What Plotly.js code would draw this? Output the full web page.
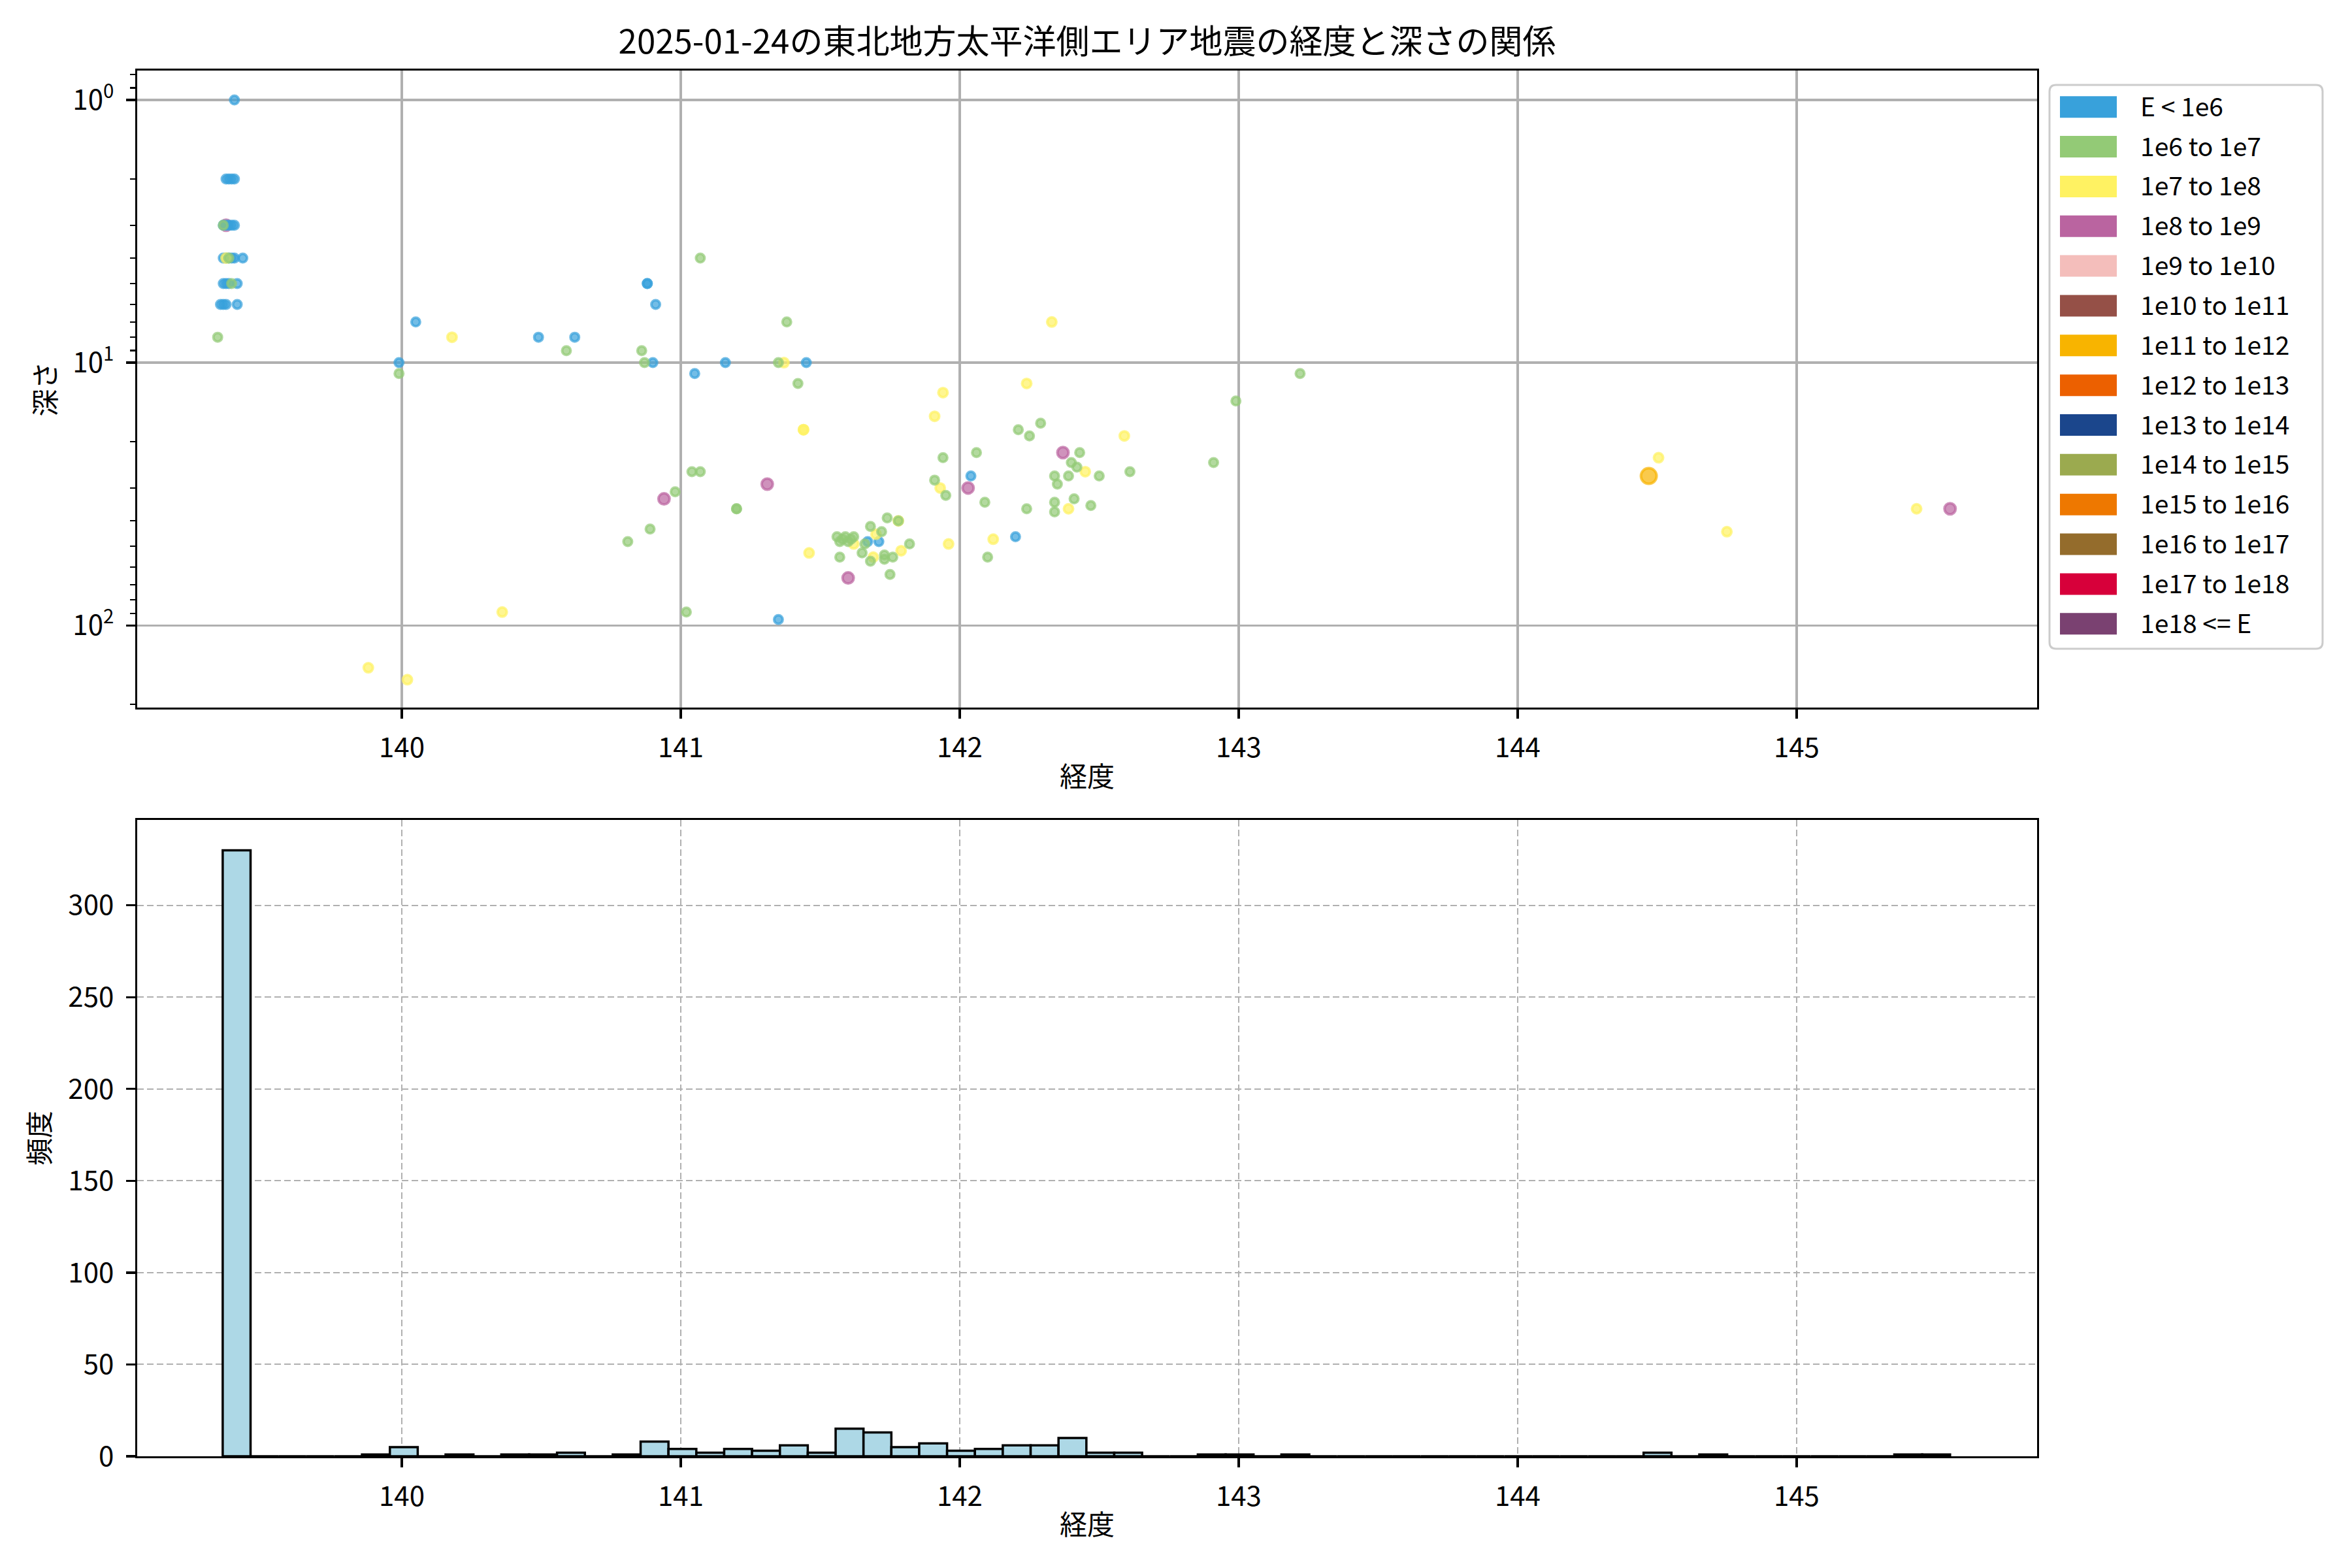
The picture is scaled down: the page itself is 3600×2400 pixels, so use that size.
<!DOCTYPE html>
<html><head><meta charset="utf-8">
<script src="https://cdn.plot.ly/plotly-3.0.1.min.js"></script>
<style>html,body{margin:0;padding:0;background:#fff}</style>
</head><body><div id="chart" style="width:3600px;height:2400px"></div>
<script>
// ---------------- data ----------------
const titleText = '2025-01-24の東北地方太平洋側エリア地震の経度と深さの関係';
const energyLabels = ['E < 1e6','1e6 to 1e7','1e7 to 1e8','1e8 to 1e9','1e9 to 1e10','1e10 to 1e11','1e11 to 1e12','1e12 to 1e13','1e13 to 1e14','1e14 to 1e15','1e15 to 1e16','1e16 to 1e17','1e17 to 1e18','1e18 <= E'];
const energyColors = ['#38A1DB','#93CA76','#FFF262','#BA64A0','#F4BEBB','#955047','#F8B400','#EC6000','#1B468C','#9BAA4F','#EE7800','#946C2C','#D7003A','#7A4171'];

// E < 1e6 (blue)
const lonA = [139.40,
  139.37,139.38,139.39,139.40,
  139.36,139.37,139.38,139.39,139.40,
  139.36,139.37,139.38,139.39,139.40,139.43,
  139.36,139.37,139.38,139.41,
  139.35,139.36,139.37,139.41,
  139.99,140.05,140.49,140.62,140.90,140.88,140.88,140.91,141.05,141.16,141.45,141.35,141.67,141.71,142.04,142.20];
const depA = [1.0,
  2,2,2,2,
  3,3,3,3,3,
  4,4,4,4,4,4,
  5,5,5,5,
  6,6,6,6,
  10,7,8,8,10,5,5,6,11,10,10,95,48,48,27,46];

// 1e6 to 1e7 (green)
const lonB = [139.36,139.38,139.39,139.34,139.99,140.59,140.86,140.87,141.07,141.04,141.07,140.98,140.89,140.81,141.02,
  141.38,141.35,141.42,141.20,141.20,143.22,142.99,142.21,142.29,142.25,142.43,141.94,142.06,142.40,142.42,
  142.34,142.39,142.50,142.61,142.91,142.35,141.91,141.95,142.09,142.41,142.47,142.24,142.34,142.34,
  141.74,141.78,141.68,141.72,141.56,141.57,141.58,141.59,141.60,141.61,141.62,141.82,141.66,141.65,141.57,
  141.73,141.76,141.73,141.68,142.10,141.75];
const depB = [3,4,5,8,11,9,9,10,4,26,26,31,43,48,89,
  7,10,12,36,36,11,14,18,17,19,22,23,22,24,25,
  27,27,27,26,24,29,28,32,34,33,35,36,34,37,
  39,40,42,44,46,48,47,46,48,47,46,49,49,53,55,
  54,55,56,57,55,64];

// 1e7 to 1e8 (yellow)
const lonC = [139.37,140.18,140.36,139.88,140.02,141.37,141.44,141.44,141.46,142.33,142.24,141.94,141.91,142.59,142.45,
  141.93,142.39,141.78,141.70,141.62,141.96,142.12,141.79,141.69,144.505,144.75,145.43];
const depC = [4,8,89,145,161,10,18,18,53,7,12,13,16,19,26,
  30,36,40,45,49,49,47,52,55,23,44,36];

// 1e8 to 1e9 (purple)
const lonD = [139.37,140.94,141.31,142.37,142.03,141.60,145.55];
const depD = [3,33,29,22,30,66,36];

// 1e11 to 1e12 (amber)
const lonG = [144.47];
const depG = [27];

// histogram of longitude (62 bins)
const histStart = 139.358;
const histEnd = 145.55;
const histCounts = [330,0,0,0,0,1,5,0,1,0,1,1,2,0,1,8,4,2,4,3,6,2,15,13,5,7,3,4,6,6,10,2,2,0,0,1,1,0,1,
  0,0,0,0,0,0,0,0,0,0,0,0,
  2,0,1,0,0,0,0,0,0,1,1];

const lonTicks = [140,141,142,143,144,145];
const depthTickVals = [1,10,100];
const depthTickText = ['10<sup>0</sup>','10<sup>1</sup>','10<sup>2</sup>'];
const countTicks = [0,50,100,150,200,250,300];

// ---------------- helpers ----------------
const W = 3600, H = 2400;
const px = v => v / W;
const py = v => 1 - v / H;
const FONT = '"Noto Sans CJK JP", "Noto Sans", sans-serif';
function rgba(hex, a) {
  const n = parseInt(hex.slice(1), 16);
  return 'rgba(' + ((n >> 16) & 255) + ',' + ((n >> 8) & 255) + ',' + (n & 255) + ',' + a + ')';
}
function scat(lon, dep, ci, size) {
  return {
    type: 'scatter', mode: 'markers', x: lon, y: dep, xaxis: 'x', yaxis: 'y',
    name: energyLabels[ci], showlegend: false, hoverinfo: 'skip',
    marker: { size: size, color: rgba(energyColors[ci], 0.7),
      line: { color: rgba(energyColors[ci], 0.7), width: 4 } }
  };
}

const binWidth = (histEnd - histStart) / histCounts.length;
const binCenters = histCounts.map((_, i) => histStart + (i + 0.5) * binWidth);

const traces = [
  scat(lonD, depD, 3, 17),
  scat(lonA, depA, 0, 13),
  scat(lonC, depC, 2, 14),
  scat(lonB, depB, 1, 13),
  scat(lonG, depG, 6, 24),
  {
    type: 'bar', x: binCenters, y: histCounts, width: binWidth, xaxis: 'x2', yaxis: 'y2',
    showlegend: false, hoverinfo: 'skip',
    marker: { color: '#ADD8E6', line: { color: '#000000', width: 3.5 } }
  }
];

// minor ticks for log axis
const minorVals = [];
for (let d = 0.1; d <= 100; d *= 10) {
  for (let k = 2; k <= 9; k++) minorVals.push(Math.round(k * d * 1000) / 1000);
}

const xDom = [px(210), px(3118)];
const tickFont = { family: FONT, size: 42, color: '#000' };
const axisCommon = {
  showline: true, linecolor: '#000', linewidth: 3.3, mirror: true,
  ticks: 'outside', ticklen: 14, tickwidth: 3.3, tickcolor: '#000',
  tickfont: tickFont, zeroline: false
};

// manual legend (patches + labels)
const shapes = [];
const annotations = [];
const legL = 3137, legR = 3555, legT = 130, legB = 993, rad = 10;
shapes.push({
  type: 'path', xref: 'paper', yref: 'paper',
  path: 'M ' + px(legL + rad) + ' ' + py(legT) +
    ' L ' + px(legR - rad) + ' ' + py(legT) +
    ' Q ' + px(legR) + ' ' + py(legT) + ' ' + px(legR) + ' ' + py(legT + rad) +
    ' L ' + px(legR) + ' ' + py(legB - rad) +
    ' Q ' + px(legR) + ' ' + py(legB) + ' ' + px(legR - rad) + ' ' + py(legB) +
    ' L ' + px(legL + rad) + ' ' + py(legB) +
    ' Q ' + px(legL) + ' ' + py(legB) + ' ' + px(legL) + ' ' + py(legB - rad) +
    ' L ' + px(legL) + ' ' + py(legT + rad) +
    ' Q ' + px(legL) + ' ' + py(legT) + ' ' + px(legL + rad) + ' ' + py(legT) + ' Z',
  line: { color: '#cccccc', width: 3 }, fillcolor: 'rgba(255,255,255,0.8)'
});
energyLabels.forEach((lab, i) => {
  const cy = 163.7 + 60.85 * i;
  shapes.push({
    type: 'rect', xref: 'paper', yref: 'paper',
    x0: px(3153), x1: px(3240), y0: py(cy - 16.5), y1: py(cy + 16.5),
    line: { width: 0 }, fillcolor: energyColors[i]
  });
  annotations.push({
    xref: 'paper', yref: 'paper', x: px(3274), y: py(cy - 3), xanchor: 'left', yanchor: 'middle',
    text: lab, showarrow: false, font: { family: FONT, size: 39, color: '#000' }
  });
});

const layout = {
  width: W, height: H,
  margin: { l: 0, r: 0, t: 0, b: 0 },
  paper_bgcolor: '#fff', plot_bgcolor: '#fff',
  font: { family: FONT, color: '#000' },
  title: { text: titleText, x: px(1664), xanchor: 'center', y: py(64), yanchor: 'middle',
    font: { family: FONT, size: 51, color: '#000' } },
  xaxis: Object.assign({}, axisCommon, {
    domain: xDom, anchor: 'y', range: [139.0515, 145.862],
    tickvals: lonTicks, showgrid: true, gridcolor: '#b0b0b0', gridwidth: 3.3,
    ticklabelstandoff: 8,
    title: { text: '経度', font: { family: FONT, size: 42, color: '#000' }, standoff: 6 }
  }),
  yaxis: Object.assign({}, axisCommon, {
    domain: [py(1083), py(108)], anchor: 'x', type: 'log', range: [2.313, -0.112],
    tickvals: depthTickVals, ticktext: depthTickText,
    showgrid: true, gridcolor: '#b0b0b0', gridwidth: 3.3,
    ticklabelstandoff: 10,
    minor: { tickvals: minorVals, ticks: 'outside', ticklen: 8, tickwidth: 2.5, tickcolor: '#000', showgrid: false },
    title: { text: '深さ', font: { family: FONT, size: 42, color: '#000' }, standoff: 13 }
  }),
  xaxis2: Object.assign({}, axisCommon, {
    domain: xDom, anchor: 'y2', range: [139.0515, 145.862],
    tickvals: lonTicks, showgrid: true, gridcolor: '#b0b0b0', gridwidth: 2, griddash: '10px,5px',
    ticklabelstandoff: 8,
    title: { text: '経度', font: { family: FONT, size: 42, color: '#000' }, standoff: 5 }
  }),
  yaxis2: Object.assign({}, axisCommon, {
    domain: [py(2229), py(1255)], anchor: 'x2', range: [0, 346.5],
    tickvals: countTicks, showgrid: true, gridcolor: '#b0b0b0', gridwidth: 2, griddash: '10px,5px',
    ticklabelstandoff: 10,
    title: { text: '頻度', font: { family: FONT, size: 42, color: '#000' }, standoff: 15 }
  }),
  bargap: 0,
  shapes: shapes,
  annotations: annotations
};

Plotly.newPlot('chart', traces, layout, { staticPlot: true, displayModeBar: false });
</script></body></html>
